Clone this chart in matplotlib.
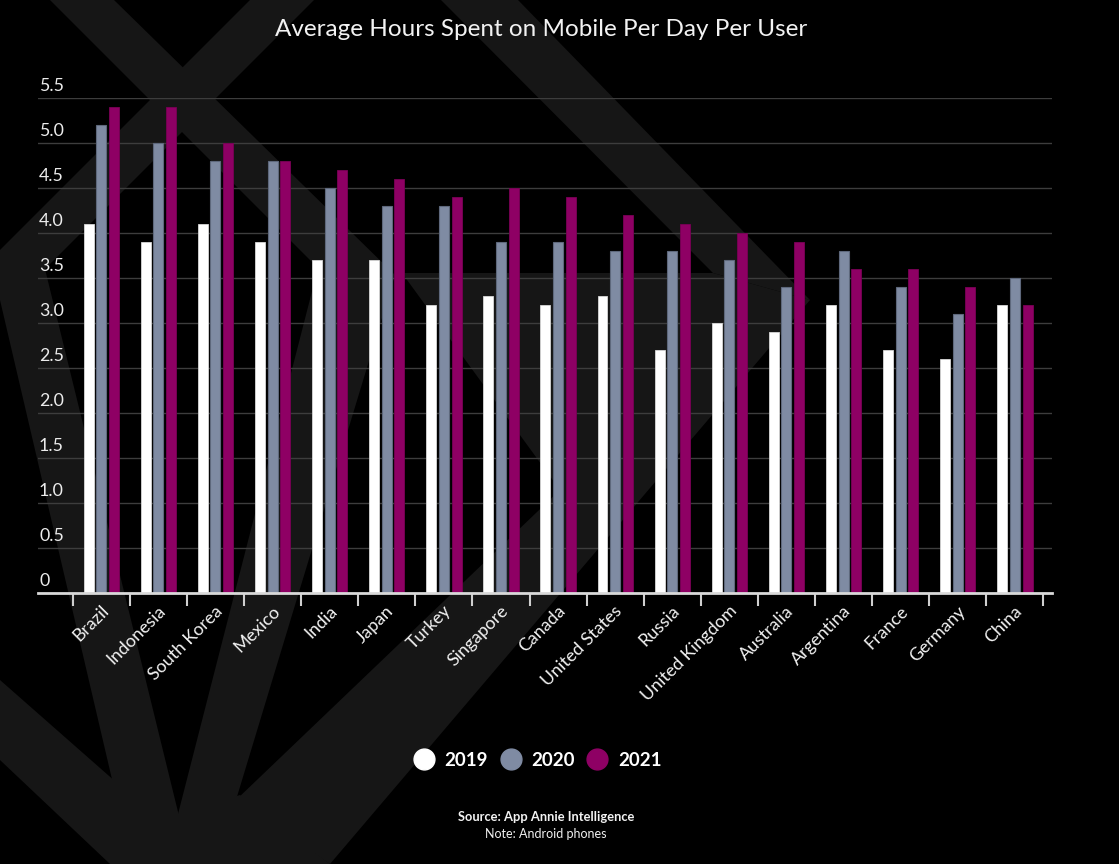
import matplotlib
matplotlib.use("Agg")
import matplotlib.pyplot as plt
import matplotlib.transforms as mtransforms
from matplotlib.patches import Polygon
from matplotlib.lines import Line2D
import numpy as np

plt.rcParams['font.family'] = ['Lato', 'DejaVu Sans']

countries = ['Brazil', 'Indonesia', 'South Korea', 'Mexico', 'India', 'Japan',
             'Turkey', 'Singapore', 'Canada', 'United States', 'Russia',
             'United Kingdom', 'Australia', 'Argentina', 'France', 'Germany', 'China']
hours_2019 = [4.1, 3.9, 4.1, 3.9, 3.7, 3.7, 3.2, 3.3, 3.2, 3.3, 2.7, 3.0, 2.9, 3.2, 2.7, 2.6, 3.2]
hours_2020 = [5.2, 5.0, 4.8, 4.8, 4.5, 4.3, 4.3, 3.9, 3.9, 3.8, 3.8, 3.7, 3.4, 3.8, 3.4, 3.1, 3.5]
hours_2021 = [5.4, 5.4, 5.0, 4.8, 4.7, 4.6, 4.4, 4.5, 4.4, 4.2, 4.1, 4.0, 3.9, 3.6, 3.6, 3.4, 3.2]
years = ['2019', '2020', '2021']
colors = ['#ffffff', '#7f8ba3', '#8e0064']
yticks = [0, 0.5, 1.0, 1.5, 2.0, 2.5, 3.0, 3.5, 4.0, 4.5, 5.0, 5.5]
ytick_labels = ['0', '0.5', '1.0', '1.5', '2.0', '2.5', '3.0', '3.5', '4.0', '4.5', '5.0', '5.5']

W, H = 1119, 864
fig = plt.figure(figsize=(W / 100, H / 100), dpi=100, facecolor='black')

# faint background logo shapes (pixel coords, y from top)
shapes = [
    [(250, 0), (314, 0), (45, 269), (180, 820), (118, 805), (0, 300), (0, 250)],
    [(50, 0), (114, 0), (395, 275), (236, 800), (177, 818), (318, 268)],
    [(0, 680), (150, 812), (170, 864), (110, 864), (0, 760)],
    [(110, 800), (180, 815), (240, 795), (330, 864), (120, 864)],
    [(441, 0), (518, 0), (810, 300), (713, 273)],
    [(402, 273), (713, 273), (810, 300), (330, 864), (236, 800), (560, 490)],
]
for pts in shapes:
    xy = [(px / W, 1 - py / H) for px, py in pts]
    fig.add_artist(Polygon(xy, closed=True, facecolor='#161616', edgecolor='none',
                           transform=fig.transFigure, zorder=-5))

ax = fig.add_axes([38 / W, 1 - 593 / H, 1014 / W, (593 - 98) / H])
ax.set_facecolor('none')

x = np.arange(len(countries))
bw = 0.175
off = 0.222
ax.bar(x - off, hours_2019, bw, color=colors[0], edgecolor='#d8d8d8', linewidth=0.6, zorder=3)
ax.bar(x, hours_2020, bw, color=colors[1], edgecolor='#5e687c', linewidth=0.8, zorder=3)
ax.bar(x + off, hours_2021, bw, color=colors[2], edgecolor='#7a0056', linewidth=0.6, zorder=3)

ax.set_xlim(-1.108, 16.65)
ax.set_ylim(0, 5.5)

for s in ['top', 'right', 'left']:
    ax.spines[s].set_visible(False)
ax.spines['bottom'].set_color('#d9d9d9')
ax.spines['bottom'].set_linewidth(2)
ax.spines['bottom'].set_zorder(4)

for yv in yticks[1:]:
    ax.axhline(yv, color='#3d3d3d', linewidth=1, zorder=1)
ax.set_yticks([])
for yv, lab in zip(yticks, ytick_labels):
    ax.annotate(lab, xy=(0, yv), xycoords=ax.get_yaxis_transform(),
                xytext=(1, 4), textcoords='offset pixels',
                ha='left', va='bottom', color='#ececec', fontsize=12.8)

# boundary ticks and category labels
ax.set_xticks(np.arange(-0.5, len(countries), 1.0))
ax.set_xticklabels([])
ax.tick_params(axis='x', which='major', direction='out', length=9, width=1.5,
               color='#cfcfcf')
ax.set_xticks(x, countries, minor=True)
ax.tick_params(axis='x', which='minor', length=0, pad=7, labelsize=12.8,
               labelcolor='#f2f2f2')
shift = mtransforms.ScaledTranslation(-1 / 100, 0, fig.dpi_scale_trans)
for lab in ax.get_xticklabels(minor=True):
    lab.set_rotation(45)
    lab.set_ha('right')
    lab.set_va('top')
    lab.set_rotation_mode('anchor')
    lab.set_transform(lab.get_transform() + shift)

fig.text(541 / W, 1 - 30 / H, 'Average Hours Spent on Mobile Per Day Per User',
         ha='center', va='center', color='#f2f2f2', fontsize=17.5)

handles = [Line2D([], [], marker='o', linestyle='none', markersize=15,
                  markerfacecolor=c, markeredgecolor=c) for c in colors]
leg = fig.legend(handles, years, loc='center', bbox_to_anchor=(538 / W, 1 - 760 / H),
                 ncol=3, frameon=False, handletextpad=0.6, columnspacing=0.7,
                 handlelength=1.0, prop={'weight': 'bold', 'size': 13.5})
for t in leg.get_texts():
    t.set_color('white')

fig.text(546 / W, 1 - 817 / H, 'Source: App Annie Intelligence', ha='center',
         va='center', color='#f2f2f2', fontsize=9.3, fontweight='bold')
fig.text(546 / W, 1 - 834 / H, 'Note: Android phones', ha='center',
         va='center', color='#f2f2f2', fontsize=9)

fig.savefig('out.png', dpi=100, facecolor='black')
